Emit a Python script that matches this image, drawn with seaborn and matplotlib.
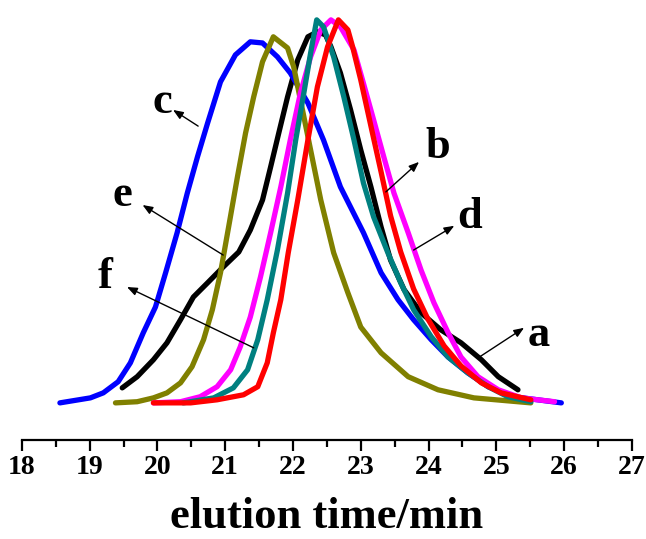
import matplotlib
matplotlib.use("Agg")
import matplotlib.pyplot as plt
from matplotlib.ticker import MultipleLocator
import seaborn as sns
import pandas as pd

# ---- data (elution time / min, normalized intensity) ----
a_x = [19.48, 19.70, 19.94, 20.14, 20.34, 20.53, 20.74, 20.97, 21.20, 21.37, 21.55, 21.67, 21.79, 21.92, 22.07, 22.22, 22.36, 22.48, 22.56, 22.70, 22.85, 23.00, 23.15, 23.30, 23.44, 23.64, 23.89, 24.18, 24.48, 24.78, 25.03, 25.32]
a_y = [0.039, 0.068, 0.112, 0.156, 0.216, 0.275, 0.312, 0.353, 0.392, 0.449, 0.527, 0.613, 0.701, 0.795, 0.891, 0.951, 0.964, 0.956, 0.925, 0.857, 0.761, 0.657, 0.561, 0.457, 0.371, 0.294, 0.234, 0.190, 0.156, 0.112, 0.068, 0.034]

b_x = [19.94, 20.49, 20.88, 21.27, 21.48, 21.62, 21.71, 21.82, 21.93, 22.07, 22.22, 22.36, 22.51, 22.67, 22.81, 22.88, 23.00, 23.15, 23.30, 23.44, 23.59, 23.78, 23.99, 24.23, 24.48, 24.78, 25.07, 25.51]
b_y = [0.0, 0.0, 0.008, 0.021, 0.042, 0.104, 0.182, 0.268, 0.390, 0.527, 0.683, 0.821, 0.925, 0.995, 0.969, 0.925, 0.839, 0.719, 0.600, 0.486, 0.392, 0.296, 0.218, 0.148, 0.096, 0.052, 0.026, 0.008]

c_x = [18.56, 19.01, 19.20, 19.42, 19.60, 19.79, 19.97, 20.12, 20.29, 20.44, 20.59, 20.74, 20.93, 21.15, 21.37, 21.55, 21.77, 21.96, 22.22, 22.45, 22.70, 23.04, 23.30, 23.55, 23.78, 24.04, 24.29, 24.58, 24.88, 25.26, 25.96]
c_y = [0.0, 0.013, 0.026, 0.055, 0.104, 0.182, 0.249, 0.338, 0.442, 0.545, 0.639, 0.727, 0.834, 0.904, 0.938, 0.935, 0.899, 0.857, 0.779, 0.683, 0.561, 0.442, 0.338, 0.268, 0.216, 0.164, 0.119, 0.078, 0.042, 0.016, 0.0]

d_x = [19.94, 20.34, 20.63, 20.88, 21.08, 21.22, 21.37, 21.52, 21.67, 21.82, 21.96, 22.11, 22.26, 22.41, 22.56, 22.70, 22.90, 23.04, 23.19, 23.34, 23.49, 23.70, 23.89, 24.08, 24.29, 24.48, 24.73, 25.03, 25.37, 25.86]
d_y = [0.0, 0.003, 0.016, 0.042, 0.086, 0.145, 0.223, 0.327, 0.442, 0.561, 0.683, 0.805, 0.899, 0.969, 0.995, 0.977, 0.917, 0.830, 0.735, 0.639, 0.545, 0.442, 0.345, 0.260, 0.182, 0.119, 0.068, 0.034, 0.013, 0.003]

e_x = [19.38, 19.70, 19.94, 20.14, 20.34, 20.51, 20.68, 20.81, 20.93, 21.05, 21.18, 21.30, 21.42, 21.55, 21.71, 21.92, 22.01, 22.11, 22.26, 22.41, 22.60, 22.81, 23.00, 23.30, 23.70, 24.14, 24.67, 25.51]
e_y = [0.0, 0.003, 0.013, 0.026, 0.052, 0.094, 0.164, 0.242, 0.338, 0.457, 0.587, 0.701, 0.795, 0.886, 0.951, 0.922, 0.873, 0.787, 0.657, 0.527, 0.390, 0.286, 0.197, 0.130, 0.068, 0.034, 0.013, 0.0]

f_x = [20.38, 20.83, 21.12, 21.33, 21.48, 21.62, 21.77, 21.92, 22.04, 22.16, 22.26, 22.35, 22.45, 22.60, 22.75, 22.90, 23.04, 23.19, 23.40, 23.59, 23.78, 24.04, 24.29, 24.58, 24.88, 25.17, 25.51]
f_y = [0.0, 0.013, 0.039, 0.086, 0.164, 0.268, 0.397, 0.545, 0.683, 0.805, 0.909, 0.995, 0.977, 0.899, 0.795, 0.683, 0.571, 0.483, 0.390, 0.312, 0.242, 0.172, 0.119, 0.078, 0.042, 0.016, 0.003]

series_names = ["a", "c", "e", "d", "f", "b"]
series_colors = {"a": "#000000", "b": "#ff0000", "c": "#0000ff",
                 "d": "#ff00ff", "e": "#808000", "f": "#008080"}
series_data = {"a": (a_x, a_y), "b": (b_x, b_y), "c": (c_x, c_y),
               "d": (d_x, d_y), "e": (e_x, e_y), "f": (f_x, f_y)}

# label text position, arrow tail (on curve), arrow head
label_pos = {"c": (20.07, 0.782), "e": (19.48, 0.540), "f": (19.23, 0.327),
             "b": (24.14, 0.665), "d": (24.60, 0.483), "a": (25.63, 0.177)}
arrow_tail = {"c": (20.60, 0.719), "e": (20.97, 0.384), "f": (21.42, 0.143),
              "b": (23.37, 0.548), "d": (23.78, 0.397), "a": (24.75, 0.119)}
arrow_head = {"c": (20.23, 0.761), "e": (19.78, 0.514), "f": (19.55, 0.301),
              "b": (23.86, 0.626), "d": (24.38, 0.460), "a": (25.41, 0.195)}

x_ticks = [18, 19, 20, 21, 22, 23, 24, 25, 26, 27]

sns.set_theme(style="white")
plt.rcParams["font.family"] = ["Liberation Serif", "DejaVu Serif"]
plt.rcParams["font.weight"] = "bold"
plt.rcParams["text.color"] = "black"
plt.rcParams["xtick.color"] = "black"
plt.rcParams["axes.labelcolor"] = "black"

fig = plt.figure(figsize=(6.46, 5.39), dpi=100)
ax = fig.add_axes([0.034, 0.184, 0.944, 0.797])

for name in series_names:
    xs, ys = series_data[name]
    df = pd.DataFrame({"t": xs, "I": ys})
    sns.lineplot(data=df, x="t", y="I", ax=ax, color=series_colors[name],
                 linewidth=3.8, sort=False, estimator=None)

for name in ["a", "b", "c", "d", "e", "f"]:
    ax.annotate("", xy=arrow_head[name], xytext=arrow_tail[name],
                arrowprops=dict(arrowstyle="-|>,head_length=0.5,head_width=0.2",
                                color="black", lw=1.0, shrinkA=0, shrinkB=0))
    ax.text(label_pos[name][0], label_pos[name][1], name, fontsize=32,
            fontweight="bold", ha="center", va="center", color="black")

ax.set_xlim(18, 27)
ax.set_ylim(-0.096, 1.02)
ax.set_xticks(x_ticks)
ax.set_xticklabels([str(t) for t in x_ticks], fontsize=20, fontweight="bold",
                   color="black")
ax.xaxis.set_minor_locator(MultipleLocator(0.5))
ax.set_yticks([])
ax.set_ylabel("")
ax.set_xlabel("elution time/min", fontsize=32, fontweight="bold", labelpad=12,
              color="black")

for s in ["top", "right", "left"]:
    ax.spines[s].set_visible(False)
ax.spines["bottom"].set_linewidth(1.6)
ax.spines["bottom"].set_color("black")
ax.tick_params(axis="x", which="major", direction="out", length=8, width=1.6,
               color="black", labelcolor="black", bottom=True, pad=3)
ax.tick_params(axis="x", which="minor", direction="out", length=5, width=1.6,
               color="black", bottom=True)

fig.savefig("out.png", dpi=100)
